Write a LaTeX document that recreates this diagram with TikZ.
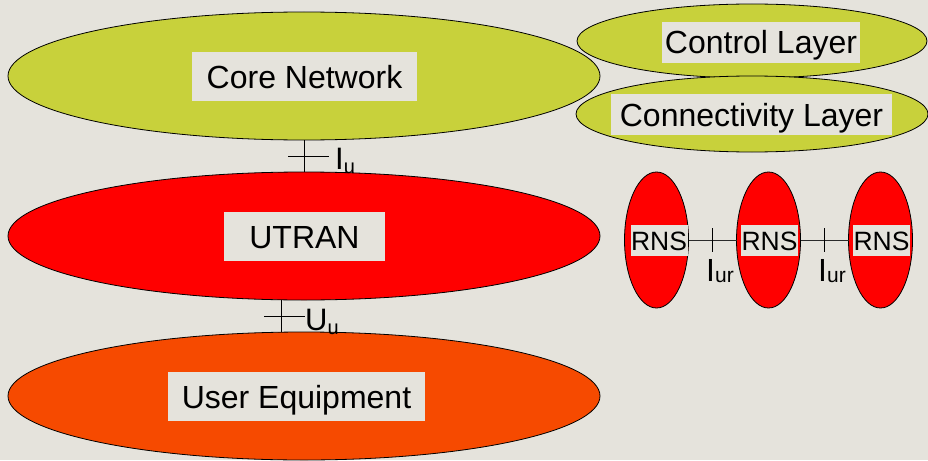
\documentclass[tikz,border=0pt]{standalone}
\usepackage{fontspec}
\setmainfont{Liberation Sans}
\usetikzlibrary{shapes.geometric,calc}
\definecolor{paper}{HTML}{E5E3DC}
\definecolor{lime}{HTML}{C8D13B}
\definecolor{utranred}{HTML}{FF0000}
\definecolor{uecolor}{HTML}{F64A00}
\definecolor{wire}{HTML}{2A2A2A}
\begin{document}
\begin{tikzpicture}[x=1pt,y=-1pt,
  layer/.style={ellipse, draw=black, line width=0.8pt, inner sep=0pt, outer sep=0pt},
  tag/.style={fill=paper, inner sep=0pt, outer sep=0pt, text=black,
    font=\fontsize{32}{32}\selectfont, text height=23pt, text depth=0pt},
  bigtag/.style={tag, minimum height=49pt},
  smalltag/.style={tag, minimum height=41pt},
  rnstag/.style={fill=paper, inner sep=0pt, text=black, minimum width=57pt, minimum height=31pt,
    font=\fontsize{26.5}{26.5}\selectfont, text height=19pt, text depth=0pt},
  link/.style={draw=black, line width=0.8pt},
  rlink/.style={draw=wire, line width=0.9pt},
  iflabel/.style={anchor=base west, inner sep=0pt, text=black}]
\useasboundingbox (0,0) rectangle (928,460);
\fill[paper] (0,0) rectangle (928,460);

% layer legend on the right
\node[layer, fill=lime, minimum width=350pt, minimum height=74pt] (ctrl) at (752,41) {};
\node[layer, fill=lime, minimum width=352pt, minimum height=76pt] (conn) at (752,114) {};

% main stack
\node[layer, fill=lime, minimum width=592pt, minimum height=128pt] (core) at (304,76) {};
\node[layer, fill=utranred, minimum width=592pt, minimum height=128pt] (utran) at (304,236) {};
\node[layer, fill=uecolor, minimum width=592pt, minimum height=128pt] (ue) at (304,396) {};

% radio network subsystems
\node[layer, fill=utranred, minimum width=64pt, minimum height=136pt] (rnsa) at (656.5,240) {};
\node[layer, fill=utranred, minimum width=64pt, minimum height=136pt] (rnsb) at (768.5,240) {};
\node[layer, fill=utranred, minimum width=64pt, minimum height=136pt] (rnsc) at (880.5,240) {};

% labels
\node[bigtag, minimum width=225pt] (corelbl) at (304.5,76.5) {Core Network};
\node[bigtag, minimum width=161pt] (utranlbl) at (304.5,236.5) {UTRAN};
\node[bigtag, minimum width=257pt] (uelbl) at (296.5,396.5) {User Equipment};
\node[smalltag, minimum width=198pt] (ctrllbl) at (761,42.5) {Control Layer};
\node[smalltag, minimum width=281pt] (connlbl) at (751.5,114.5) {Connectivity Layer};
\node[rnstag] (rnsalbl) at (659,240.5) {RNS};
\node[rnstag] (rnsblbl) at (769.5,240.5) {RNS};
\node[rnstag] (rnsclbl) at (881.5,240.5) {RNS};

% Iu interface
\draw[link] (core.south) -- (utran.north) coordinate[midway] (iumid);
\draw[link] ([xshift=-16pt]iumid) -- ([xshift=25pt]iumid);
\node[iflabel] (iulbl) at ($(iumid)+(31,13)$)
  {{\fontsize{31}{31}\selectfont I}{\fontsize{20}{20}\selectfont\raisebox{-4pt}{u}}};

% Uu interface
\draw[link] ([xshift=-23pt]utran.south) -- ([xshift=-23pt]ue.north) coordinate[midway] (uumid);
\draw[link] ([xshift=-17pt]uumid) -- ([xshift=24pt]uumid);
\node[iflabel] (uulbl) at ($(uumid)+(24,14)$)
  {{\fontsize{31}{31}\selectfont U}{\fontsize{20}{20}\selectfont\raisebox{-4pt}{u}}};

% Iur interfaces
\draw[rlink] (rnsa.east) -- (rnsb.west) coordinate[midway] (iurab);
\draw[rlink] (rnsb.east) -- (rnsc.west) coordinate[midway] (iurbc);
\draw[link] ([yshift=12pt]iurab) -- ([yshift=-12pt]iurab);
\draw[link] ([yshift=12pt]iurbc) -- ([yshift=-12pt]iurbc);
\node[iflabel] (iurablbl) at ($(iurab)+(-6.5,41)$)
  {{\fontsize{32}{32}\selectfont I}{\fontsize{21}{21}\selectfont\raisebox{-1pt}{ur}}};
\node[iflabel] (iurbclbl) at ($(iurbc)+(-6.5,41)$)
  {{\fontsize{32}{32}\selectfont I}{\fontsize{21}{21}\selectfont\raisebox{-1pt}{ur}}};
\end{tikzpicture}
\end{document}
